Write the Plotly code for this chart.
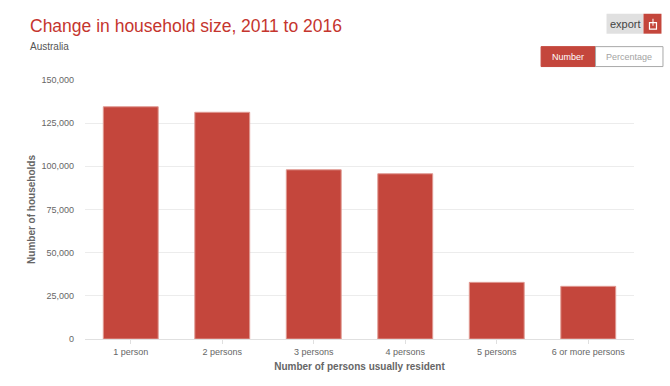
import plotly.graph_objects as go

categories = ["1 person", "2 persons", "3 persons", "4 persons", "5 persons", "6 or more persons"]
households = [134500, 131300, 98000, 95700, 32800, 30500]
tick_values = [0, 25000, 50000, 75000, 100000, 125000, 150000]
tick_labels = ["0", "25,000", "50,000", "75,000", "100,000", "125,000", "150,000"]

W, H = 670, 386
L, R, T, B = 85, 634.5, 79.5, 339.5
RED = "#c4463c"
FONT = "Liberation Sans, Arial, sans-serif"

def px(x):
    return (x - L) / (R - L)

def py(y):
    return (B - y) / (B - T)

def rect(x0, y0, x1, y1, fill, line=None, width=1):
    return dict(type="rect", xref="paper", yref="paper", x0=px(x0), x1=px(x1), y0=py(y0), y1=py(y1),
                fillcolor=fill, line=dict(color=line or fill, width=width if line else 0), layer="above")

def text(x, y, s, size, color, anchor="left", **kw):
    return dict(xref="paper", yref="paper", x=px(x), y=py(y), text=s, showarrow=False, xanchor=anchor,
                yanchor="middle", xshift=0, font=dict(size=size, color=color, family=FONT),
                borderpad=0, **kw)

fig = go.Figure(go.Bar(x=categories, y=households, marker=dict(color=RED, line=dict(color="#e09a93", width=1)),
                       width=0.6))

shapes = [
    rect(607, 13, 644, 33, "#e0e0e0"),
    rect(644, 13, 662, 33, RED),
    rect(650, 22, 657, 28.5, "rgba(0,0,0,0)", "#ffffff", 1.2),
    rect(653, 18, 654, 25, "#ffffff"),
    rect(541.5, 46, 596, 66, RED, RED, 1),
    rect(596, 46, 663.5, 66, "#ffffff", "#a9a9a9", 1),
]
annotations = [
    text(28.5, 25, "Change in household size, 2011 to 2016", 17.5, "#c5352e"),
    text(29, 45.5, "Australia", 10, "#555555"),
    text(625.5, 23.5, "export", 11, "#444444", anchor="center"),
    text(568, 56, "Number", 9, "#ffffff", anchor="center"),
    text(629, 56, "Percentage", 9, "#a3a3a3", anchor="center"),
]

fig.update_layout(
    width=W, height=H, autosize=False,
    margin=dict(l=L, r=W - R, t=T, b=H - B),
    paper_bgcolor="#ffffff", plot_bgcolor="#ffffff",
    showlegend=False, shapes=shapes, annotations=annotations, bargap=0.4,
    font=dict(family=FONT, size=9, color="#666666"),
    xaxis=dict(type="category", tickmode="array", tickvals=categories, ticks="outside", ticklen=4,
               tickcolor="#e0e0e0", linecolor="#e0e0e0", linewidth=1, showgrid=False,
               tickfont=dict(size=9, color="#666666"),
               title=dict(text="<b>Number of persons usually resident</b>", standoff=7,
                          font=dict(size=10, color="#666666"))),
    yaxis=dict(range=[0, 150000], tickmode="array", tickvals=tick_values, ticktext=tick_labels,
               gridcolor="#ececec", gridwidth=1, zeroline=False, ticks="", ticklabelstandoff=10,
               tickfont=dict(size=9, color="#666666"),
               title=dict(text="<b>Number of households</b>", standoff=3,
                          font=dict(size=10, color="#666666"))),
)

fig.write_html("out.html", config=dict(displayModeBar=False),
               post_script="document.body.style.margin='0';")
